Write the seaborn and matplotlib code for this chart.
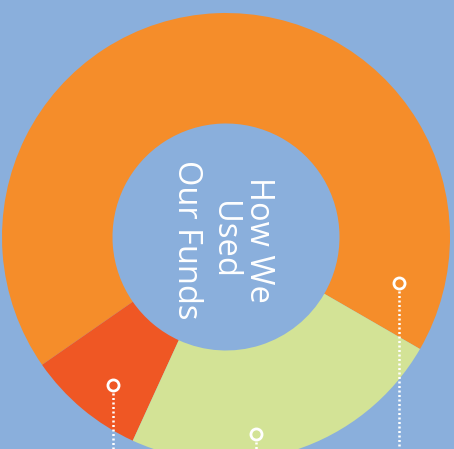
import numpy as np
import pandas as pd
import seaborn as sns
import matplotlib
matplotlib.use("Agg")
import matplotlib.pyplot as plt

# Data
categories = ["Programs", "Fundraising", "Community"]
shares = [68.0, 8.5, 23.5]
colors = ["#F58D2A", "#EF5724", "#D3E396"]
title_text = "How We\nUsed\nOur Funds"
# callout markers (category, angle in degrees, radial fraction of outer radius)
marker_cats = ["Programs", "Fundraising", "Community"]
marker_angles = [-14.8, -127.4, -81.4]
marker_radii = [0.80, 0.83, 0.89]

BG = "#8AAFDC"
sns.set_theme(style="white")
plt.rcParams['font.family'] = ['Open Sans', 'DejaVu Sans']

W, H = 454, 449
fig = plt.figure(figsize=(W / 100, H / 100), dpi=100, facecolor=BG)
ax = fig.add_axes([0, 0, 1, 1])
ax.set_facecolor(BG)

cx, cy = 226, H - 237
R, r = 224, 113.5
ax.pie(shares, colors=colors, startangle=-30, counterclock=True,
       center=(cx, cy), radius=R, frame=True,
       wedgeprops=dict(width=R - r, linewidth=0))

# callout markers with dotted leader lines
for ang, rf in zip(marker_angles, marker_radii):
    a = np.deg2rad(ang)
    mx = cx + rf * R * np.cos(a)
    my = cy + rf * R * np.sin(a)
    df = pd.DataFrame({"x": [mx, mx], "y": [my - 8, -5]})
    sns.lineplot(data=df, x="x", y="y", ax=ax, color="white", lw=1.8,
                 linestyle=(0, (0.8, 1.0)), dash_capstyle="butt", sort=False,
                 estimator=None)
    ax.plot([mx], [my], marker="o", ms=8, mfc="none", mec="white", mew=2.0)

ax.set_xlim(0, W)
ax.set_ylim(0, H)
ax.set_aspect("equal")
ax.axis("off")
ax.text(cx - 3, H - 240, title_text, rotation=-90, ha="center", va="center",
        multialignment="center", color="white", fontsize=23.5, fontweight="normal",
        linespacing=1.12, rotation_mode="anchor")

fig.savefig("out.png", dpi=100, facecolor=BG)
